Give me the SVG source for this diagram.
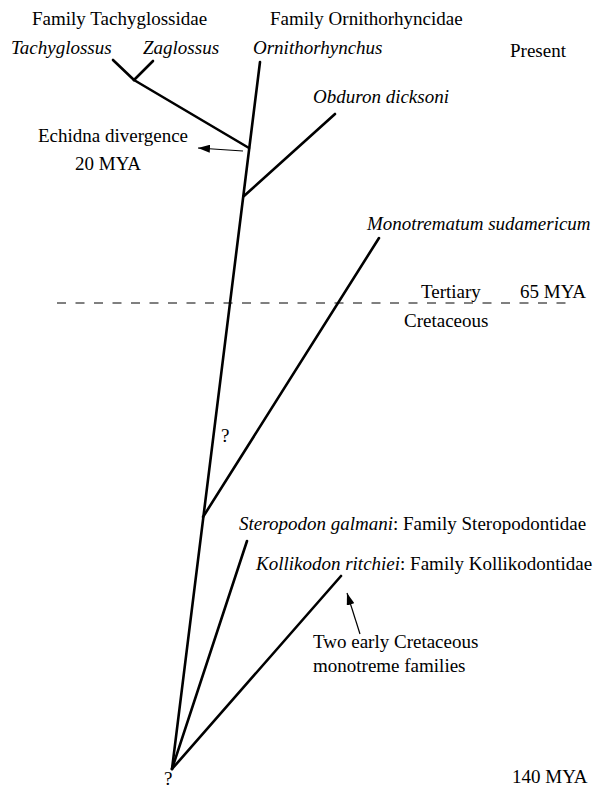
<svg xmlns="http://www.w3.org/2000/svg" width="601" height="790" viewBox="0 0 601 790">
<style>
.t{font-family:'Liberation Serif','DejaVu Serif',serif;font-size:19px;fill:#000}
.br{stroke:#000;stroke-width:2.6;fill:none;stroke-linecap:round}
.ar{stroke:#000;stroke-width:1.2;fill:none}
.dash{stroke:#000;stroke-width:1;stroke-dasharray:9 9.5}
</style>
<defs>
<marker id="ah" viewBox="0 0 12 8" refX="12" refY="4" markerWidth="12" markerHeight="8" markerUnits="userSpaceOnUse" orient="auto">
<path d="M0,0 L12,4 L0,8 Z" fill="#000"/>
</marker>
</defs>
<rect width="601" height="790" fill="#fff"/>
<g id="connectors">
<line class="br" x1="260" y1="62" x2="172" y2="769"/>
<line class="br" x1="113" y1="60" x2="134" y2="80"/>
<line class="br" x1="153" y1="61" x2="134" y2="80"/>
<line class="br" x1="134" y1="80" x2="249" y2="148"/>
<line class="br" x1="244" y1="196" x2="335" y2="114"/>
<line class="br" x1="379" y1="238" x2="203" y2="517"/>
<line class="br" x1="247" y1="541" x2="172" y2="769"/>
<line class="br" x1="341" y1="576" x2="172" y2="769"/>
<line class="ar" x1="243" y1="151" x2="198" y2="148" marker-end="url(#ah)"/>
<line class="ar" x1="360" y1="634" x2="347" y2="593" marker-end="url(#ah)"/>
<line class="dash" x1="57" y1="303" x2="573" y2="303"/>
</g>
<g id="labels" class="t" font-family="Liberation Serif, serif">
<text x="32" y="25">Family Tachyglossidae</text>
<text x="270" y="25">Family Ornithorhyncidae</text>
<text x="11" y="54" font-style="italic">Tachyglossus</text>
<text x="143" y="54" font-style="italic">Zaglossus</text>
<text x="253" y="54" font-style="italic">Ornithorhynchus</text>
<text x="510" y="57">Present</text>
<text x="313" y="103" font-style="italic">Obduron dicksoni</text>
<text x="38" y="142">Echidna divergence</text>
<text x="75" y="170">20 MYA</text>
<text x="367" y="230" font-style="italic">Monotrematum sudamericum</text>
<text x="421" y="298">Tertiary</text>
<text x="520" y="298">65 MYA</text>
<text x="404" y="327">Cretaceous</text>
<text x="221" y="442">?</text>
<text x="239" y="530"><tspan font-style="italic">Steropodon galmani</tspan>: Family Steropodontidae</text>
<text x="256" y="570"><tspan font-style="italic">Kollikodon ritchiei</tspan>: Family Kollikodontidae</text>
<text x="313" y="648">Two early Cretaceous</text>
<text x="313" y="672">monotreme families</text>
<text x="164" y="785">?</text>
<text x="512" y="783">140 MYA</text>
</g>
</svg>
